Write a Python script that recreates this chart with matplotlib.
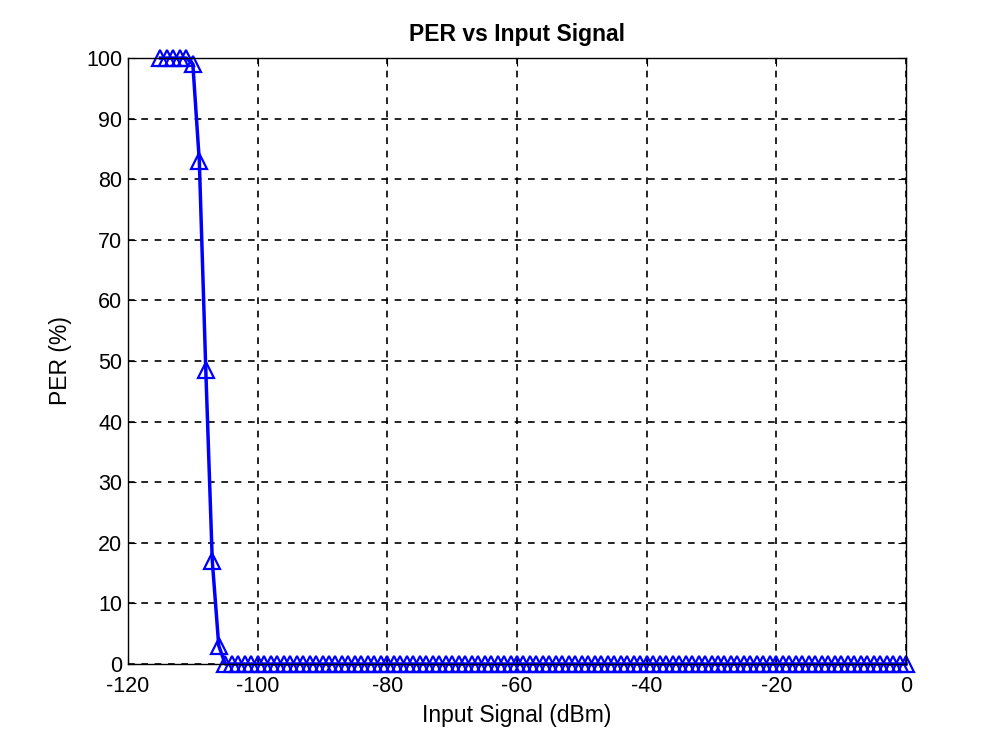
import matplotlib
matplotlib.use("Agg")
import matplotlib.pyplot as plt

plt.rcParams['font.family'] = ['Liberation Sans', 'DejaVu Sans']
plt.rcParams['axes.unicode_minus'] = False

input_dbm = list(range(-115, 1))
per_head = [100, 100, 100, 100, 100, 99, 83, 48.5, 17, 3]
per = per_head + [0] * (len(input_dbm) - len(per_head))

fig = plt.figure(figsize=(10, 7.49), dpi=100)
ax = fig.add_axes([0.128, 0.1135, 0.778, 0.809])
ax.plot(input_dbm, per, color='#0000ff', linewidth=2.5, marker='^', markersize=11,
        markerfacecolor='none', markeredgecolor='#0000ff', markeredgewidth=1.6, clip_on=False)
ax.set_xlim(-120, 0)
ax.set_ylim(0, 100)
ax.set_xticks(range(-120, 1, 20))
ax.set_yticks(range(0, 101, 10))
ax.grid(True, color='black', linestyle=(0, (4, 4)), linewidth=1.2)
ax.tick_params(direction='in', top=True, right=True, labelsize=15.5, length=6)
ax.tick_params(axis='y', pad=4)
ax.tick_params(axis='x', pad=9)
for s in ax.spines.values():
    s.set_linewidth(1)
ax.set_xlabel('Input Signal (dBm)', fontsize=16.5, labelpad=5)
ax.set_ylabel('PER (%)', fontsize=16.5, labelpad=10)
ax.set_title('PER vs Input Signal', fontsize=16.5, fontweight='bold', pad=12)
fig.savefig('out.png', dpi=100)
